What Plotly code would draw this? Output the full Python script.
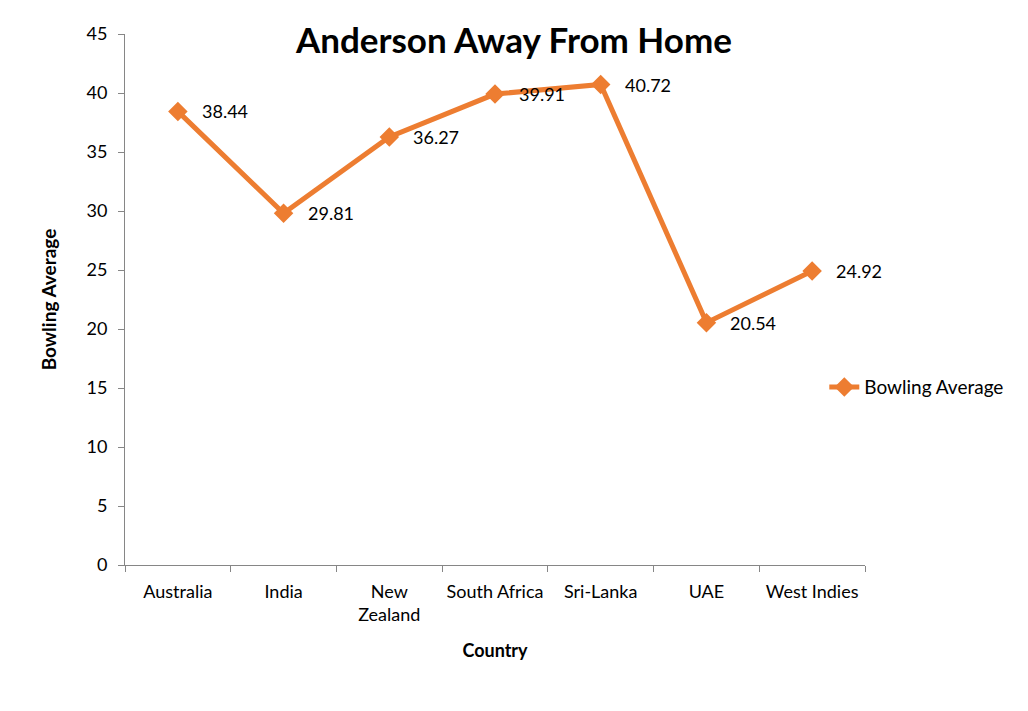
import plotly.graph_objects as go

countries = ["Australia", "India", "New<br>Zealand", "South Africa", "Sri-Lanka", "UAE", "West Indies"]
bowling_avg = [38.44, 29.81, 36.27, 39.91, 40.72, 20.54, 24.92]
y_ticks = [0, 5, 10, 15, 20, 25, 30, 35, 40, 45]

FONT = "Lato, Open Sans, sans-serif"
ORANGE = "#ED7D31"

fig = go.Figure()
fig.add_trace(go.Scatter(
    x=countries, y=bowling_avg, mode="lines+markers",
    name="Bowling Average",
    line=dict(color=ORANGE, width=5),
    marker=dict(symbol="diamond", size=15, color=ORANGE),
))
for c, v in zip(countries, bowling_avg):
    fig.add_annotation(x=c, y=v, text=f"{v:.2f}", showarrow=False,
                       xanchor="left", xshift=22, yshift=0,
                       font=dict(family=FONT, size=18, color="#000"))

fig.update_layout(
    width=1020, height=703,
    margin=dict(l=117, r=163, t=26, b=146),
    paper_bgcolor="white", plot_bgcolor="white",
    font=dict(family=FONT, size=18, color="#000"),
    title=dict(text="<b>Anderson Away From Home</b>", x=0.496, xanchor="center",
               y=0.953, yanchor="middle", font=dict(size=35, family=FONT)),
    showlegend=True,
    legend=dict(x=0.945, xanchor="left", y=0.335, yanchor="middle",
                font=dict(size=19, family=FONT), bgcolor="rgba(0,0,0,0)"),
    xaxis=dict(type="category", range=[-0.5, len(countries) - 0.5],
               tickson="boundaries", ticks="outside", ticklen=6,
               tickcolor="#868686", showline=True, linecolor="#868686", linewidth=1,
               showgrid=False, tickfont=dict(size=18), automargin=False, tickangle=0,
               ticklabelstandoff=10,
               title=dict(text="<b>Country</b>", font=dict(size=18), standoff=20)),
    yaxis=dict(range=[0, 45], tickvals=y_ticks, ticks="outside", ticklen=6,
               tickcolor="#868686", showline=True, linecolor="#868686", linewidth=1,
               showgrid=False, zeroline=False, tickfont=dict(size=18), automargin=False,
               ticklabelstandoff=7,
               title=dict(text="<b>Bowling Average</b>", font=dict(size=19), standoff=24)),
)
fig.write_html("out.html")
